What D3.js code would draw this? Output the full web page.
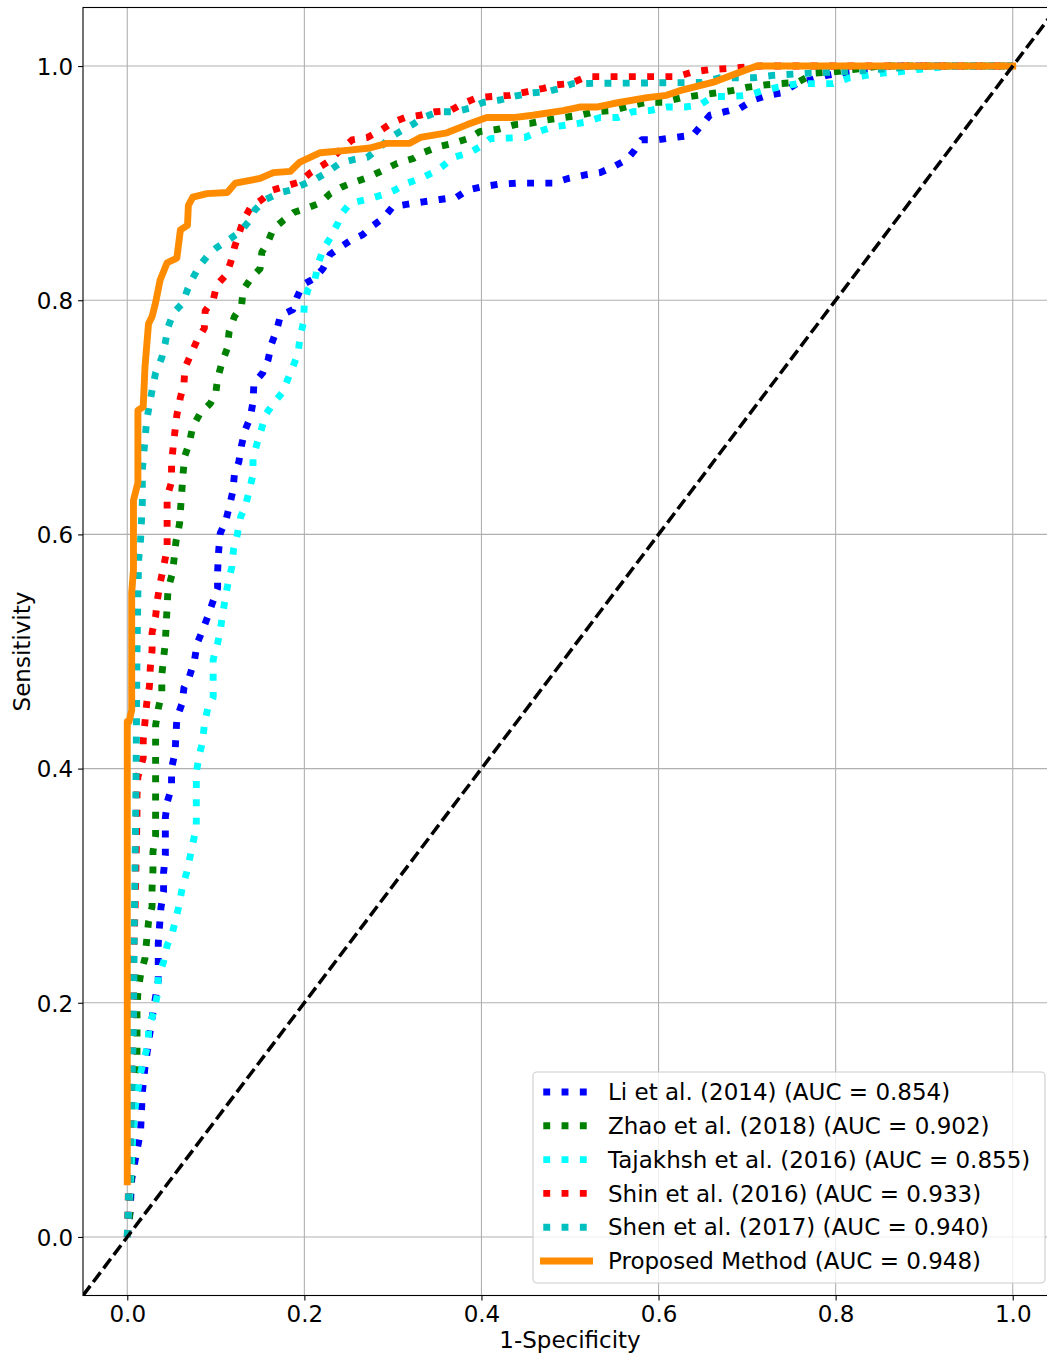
<!DOCTYPE html>
<html>
<head>
<meta charset="utf-8">
<script src="https://cdn.jsdelivr.net/npm/d3@7"></script>
<style>
html,body{margin:0;padding:0;background:#fff;}
svg{display:block;}
text{font-family:"DejaVu Sans",sans-serif;fill:#000;}
</style>
</head>
<body>
<div id="chart"></div>
<script>
// ---- data (fpr, tpr) ----
const liCurve = [[0,0],[0.003,0.02],[0.005,0.049],[0.010,0.07],[0.015,0.09],[0.017,0.123],[0.020,0.145],[0.024,0.166],[0.029,0.192],[0.032,0.205],[0.035,0.219],[0.035,0.251],[0.038,0.281],[0.041,0.295],[0.041,0.311],[0.043,0.326],[0.043,0.358],[0.045,0.371],[0.050,0.384],[0.050,0.400],[0.054,0.414],[0.055,0.429],[0.056,0.443],[0.062,0.456],[0.064,0.469],[0.070,0.478],[0.076,0.493],[0.079,0.507],[0.085,0.518],[0.091,0.530],[0.096,0.541],[0.102,0.554],[0.102,0.568],[0.103,0.584],[0.105,0.601],[0.111,0.611],[0.115,0.623],[0.119,0.636],[0.121,0.651],[0.126,0.662],[0.129,0.676],[0.133,0.689],[0.139,0.700],[0.142,0.713],[0.143,0.729],[0.153,0.738],[0.159,0.749],[0.163,0.763],[0.169,0.775],[0.173,0.787],[0.187,0.792],[0.192,0.803],[0.198,0.813],[0.212,0.819],[0.221,0.827],[0.229,0.839],[0.240,0.845],[0.252,0.851],[0.266,0.856],[0.278,0.864],[0.289,0.870],[0.300,0.880],[0.317,0.882],[0.334,0.884],[0.353,0.886],[0.372,0.888],[0.384,0.894],[0.402,0.897],[0.419,0.899],[0.440,0.900],[0.481,0.900],[0.498,0.904],[0.517,0.907],[0.534,0.909],[0.549,0.914],[0.564,0.920],[0.573,0.928],[0.581,0.937],[0.599,0.937],[0.618,0.939],[0.639,0.941],[0.649,0.950],[0.658,0.958],[0.675,0.961],[0.692,0.964],[0.707,0.971],[0.723,0.975],[0.739,0.977],[0.756,0.985],[0.771,0.988],[0.790,0.992],[0.805,0.994],[0.840,0.997],[0.870,1.0],[1.0,1.0]];

const zhaoCurve = [[0,0],[0.003,0.021],[0.003,0.038],[0.005,0.055],[0.006,0.083],[0.007,0.132],[0.011,0.149],[0.011,0.194],[0.012,0.209],[0.015,0.224],[0.020,0.238],[0.022,0.254],[0.024,0.269],[0.028,0.282],[0.028,0.298],[0.029,0.313],[0.029,0.329],[0.032,0.343],[0.032,0.437],[0.035,0.451],[0.039,0.465],[0.039,0.480],[0.041,0.494],[0.043,0.508],[0.044,0.524],[0.045,0.538],[0.046,0.553],[0.051,0.567],[0.053,0.580],[0.055,0.594],[0.059,0.609],[0.063,0.652],[0.065,0.667],[0.070,0.678],[0.074,0.692],[0.082,0.703],[0.094,0.712],[0.100,0.721],[0.102,0.733],[0.107,0.747],[0.113,0.759],[0.115,0.773],[0.121,0.786],[0.129,0.795],[0.131,0.809],[0.140,0.819],[0.150,0.827],[0.152,0.841],[0.159,0.850],[0.165,0.861],[0.176,0.868],[0.188,0.875],[0.204,0.879],[0.218,0.883],[0.229,0.891],[0.243,0.897],[0.257,0.901],[0.272,0.905],[0.289,0.911],[0.305,0.917],[0.323,0.921],[0.334,0.926],[0.351,0.931],[0.368,0.934],[0.385,0.938],[0.398,0.944],[0.419,0.946],[0.438,0.950],[0.455,0.951],[0.474,0.954],[0.492,0.956],[0.511,0.958],[0.528,0.961],[0.547,0.962],[0.568,0.966],[0.587,0.969],[0.605,0.969],[0.626,0.973],[0.645,0.975],[0.664,0.977],[0.683,0.979],[0.701,0.982],[0.722,0.984],[0.737,0.985],[0.757,0.986],[0.776,0.994],[0.797,0.995],[0.819,0.997],[0.850,1.0],[1.0,1.0]];

const tajakhshCurve = [[0,0],[0.002,0.03],[0.004,0.055],[0.006,0.083],[0.009,0.111],[0.015,0.14],[0.020,0.155],[0.024,0.166],[0.024,0.179],[0.030,0.192],[0.034,0.207],[0.035,0.222],[0.041,0.235],[0.045,0.249],[0.051,0.260],[0.055,0.272],[0.059,0.285],[0.062,0.298],[0.067,0.311],[0.071,0.325],[0.074,0.336],[0.078,0.350],[0.078,0.397],[0.081,0.410],[0.085,0.423],[0.087,0.437],[0.091,0.452],[0.097,0.461],[0.097,0.493],[0.102,0.507],[0.105,0.518],[0.108,0.533],[0.111,0.547],[0.114,0.559],[0.118,0.572],[0.120,0.587],[0.124,0.599],[0.128,0.615],[0.133,0.623],[0.137,0.635],[0.142,0.651],[0.142,0.665],[0.147,0.679],[0.152,0.691],[0.156,0.702],[0.165,0.712],[0.175,0.721],[0.181,0.732],[0.187,0.743],[0.193,0.755],[0.195,0.768],[0.199,0.781],[0.200,0.798],[0.204,0.809],[0.212,0.818],[0.216,0.832],[0.221,0.843],[0.229,0.853],[0.238,0.866],[0.243,0.875],[0.252,0.883],[0.271,0.886],[0.288,0.890],[0.302,0.894],[0.316,0.900],[0.331,0.904],[0.345,0.909],[0.357,0.915],[0.368,0.922],[0.387,0.926],[0.398,0.931],[0.410,0.938],[0.449,0.939],[0.464,0.944],[0.481,0.948],[0.500,0.950],[0.517,0.952],[0.534,0.956],[0.554,0.956],[0.571,0.961],[0.590,0.962],[0.609,0.965],[0.630,0.965],[0.647,0.967],[0.661,0.974],[0.681,0.974],[0.701,0.975],[0.718,0.979],[0.735,0.982],[0.757,0.985],[0.797,0.985],[0.816,0.990],[0.835,0.992],[0.853,0.994],[0.872,0.995],[0.892,0.997],[0.930,1.0],[1.0,1.0]];

const shinCurve = [[0,0],[0.001,0.03],[0.002,0.06],[0.004,0.1],[0.005,0.15],[0.007,0.2],[0.007,0.237],[0.009,0.285],[0.011,0.362],[0.011,0.377],[0.012,0.393],[0.018,0.409],[0.018,0.424],[0.020,0.440],[0.022,0.456],[0.025,0.470],[0.026,0.486],[0.028,0.501],[0.028,0.516],[0.032,0.530],[0.034,0.544],[0.037,0.558],[0.041,0.572],[0.045,0.588],[0.045,0.632],[0.050,0.645],[0.050,0.661],[0.052,0.676],[0.056,0.702],[0.060,0.717],[0.064,0.728],[0.065,0.742],[0.072,0.754],[0.079,0.766],[0.087,0.776],[0.088,0.791],[0.097,0.800],[0.101,0.813],[0.112,0.822],[0.117,0.833],[0.121,0.845],[0.131,0.868],[0.139,0.879],[0.152,0.886],[0.164,0.894],[0.181,0.898],[0.195,0.901],[0.207,0.909],[0.220,0.915],[0.230,0.920],[0.240,0.928],[0.254,0.937],[0.271,0.939],[0.286,0.945],[0.300,0.952],[0.314,0.956],[0.331,0.958],[0.348,0.961],[0.365,0.962],[0.379,0.968],[0.395,0.973],[0.413,0.974],[0.432,0.975],[0.451,0.978],[0.470,0.981],[0.485,0.984],[0.500,0.985],[0.519,0.991],[0.621,0.991],[0.639,0.995],[0.658,0.997],[0.681,0.998],[0.714,1.0],[1.0,1.0]];

const shenCurve = [[0,0],[0.002,0.05],[0.005,0.12],[0.007,0.18],[0.008,0.27],[0.009,0.33],[0.010,0.40],[0.011,0.50],[0.012,0.55],[0.013,0.58],[0.015,0.595],[0.017,0.627],[0.017,0.655],[0.022,0.698],[0.028,0.723],[0.032,0.738],[0.039,0.751],[0.043,0.764],[0.046,0.777],[0.052,0.789],[0.062,0.797],[0.068,0.809],[0.074,0.819],[0.082,0.830],[0.092,0.839],[0.101,0.845],[0.113,0.851],[0.127,0.858],[0.137,0.867],[0.144,0.877],[0.156,0.886],[0.173,0.892],[0.184,0.894],[0.199,0.899],[0.214,0.904],[0.227,0.910],[0.240,0.917],[0.255,0.920],[0.271,0.922],[0.286,0.931],[0.297,0.939],[0.308,0.944],[0.322,0.950],[0.334,0.956],[0.351,0.961],[0.370,0.961],[0.387,0.964],[0.402,0.969],[0.421,0.971],[0.436,0.974],[0.455,0.977],[0.474,0.978],[0.489,0.981],[0.503,0.985],[0.649,0.986],[0.669,0.990],[0.707,0.990],[0.729,0.992],[0.771,0.994],[0.808,0.995],[0.900,1.0],[1.0,1.0]];

const proposedCurve = [[0,0.047],[0,0.44],[0.002,0.44],[0.005,0.45],[0.005,0.55],[0.007,0.57],[0.007,0.629],[0.012,0.644],[0.012,0.706],[0.018,0.709],[0.020,0.743],[0.024,0.780],[0.028,0.786],[0.032,0.798],[0.037,0.817],[0.045,0.832],[0.056,0.836],[0.060,0.860],[0.068,0.864],[0.069,0.881],[0.074,0.888],[0.090,0.891],[0.113,0.892],[0.122,0.900],[0.150,0.904],[0.165,0.909],[0.184,0.910],[0.195,0.918],[0.218,0.926],[0.248,0.928],[0.274,0.930],[0.293,0.934],[0.319,0.934],[0.331,0.939],[0.361,0.943],[0.384,0.950],[0.406,0.956],[0.436,0.956],[0.458,0.958],[0.492,0.962],[0.511,0.965],[0.530,0.965],[0.549,0.968],[0.587,0.973],[0.609,0.975],[0.624,0.979],[0.661,0.986],[0.700,0.997],[0.711,1.0],[1.0,1.0]];

const chanceLine = [[-0.05,-0.05],[1.05,1.05]];

const seriesNames = ["Li et al. (2014) (AUC = 0.854)","Zhao et al. (2018) (AUC = 0.902)","Tajakhsh et al. (2016) (AUC = 0.855)","Shin et al. (2016) (AUC = 0.933)","Shen et al. (2017) (AUC = 0.940)","Proposed Method (AUC = 0.948)"];
const seriesColors = ["#0000ff","#008000","#00ffff","#ff0000","#00bfbf","#ff8c00"];
const seriesDotted = [true,true,true,true,true,false];
const seriesData = [liCurve, zhaoCurve, tajakhshCurve, shinCurve, shenCurve, proposedCurve];

const tickValues = [0.0,0.2,0.4,0.6,0.8,1.0];
const xLabel = "1-Specificity";
const yLabel = "Sensitivity";

// ---- layout ----
const W = 1047, H = 1356;
const pL = 83, pR = 1057, pT = 7.5, pB = 1295.5;
const lw = 6.9;
const fs = 23;

const x = d3.scaleLinear().domain([-0.05,1.05]).range([pL,pR]);
const y = d3.scaleLinear().domain([-0.05,1.05]).range([pB,pT]);

const svg = d3.select("#chart").append("svg").attr("width",W).attr("height",H);

svg.append("defs").append("clipPath").attr("id","clip")
  .append("rect").attr("x",pL).attr("y",pT).attr("width",pR-pL).attr("height",pB-pT);

// grid
const grid = svg.append("g");
grid.selectAll(".gx").data(tickValues).join("line")
  .attr("x1",d=>x(d)).attr("x2",d=>x(d)).attr("y1",pT).attr("y2",pB)
  .attr("stroke","#b0b0b0").attr("stroke-width",1.1);
grid.selectAll(".gy").data(tickValues).join("line")
  .attr("y1",d=>y(d)).attr("y2",d=>y(d)).attr("x1",pL).attr("x2",pR)
  .attr("stroke","#b0b0b0").attr("stroke-width",1.1);

// curves
const line = d3.line().x(d=>x(d[0])).y(d=>y(d[1]));
const plot = svg.append("g").attr("clip-path","url(#clip)");
seriesData.forEach((data,i)=>{
  const p = plot.append("path").datum(data).attr("d",line)
    .attr("fill","none").attr("stroke",seriesColors[i]).attr("stroke-width",lw)
    .attr("stroke-linejoin","round");
  if(seriesDotted[i]) p.attr("stroke-dasharray",`${lw},${(lw*1.65).toFixed(2)}`).attr("stroke-linecap","butt");
  else p.attr("stroke-linecap","square");
});
plot.append("path").datum(chanceLine).attr("d",line)
  .attr("fill","none").attr("stroke","#000").attr("stroke-width",3.5)
  .attr("stroke-dasharray","12,5");

// axes
const xAxis = d3.axisBottom(x).tickValues(tickValues).tickFormat(d3.format(".1f")).tickSize(4.9).tickPadding(4.9);
const yAxis = d3.axisLeft(y).tickValues(tickValues).tickFormat(d3.format(".1f")).tickSize(4.9).tickPadding(4.9);
const gx = svg.append("g").attr("transform",`translate(0,${pB})`).call(xAxis);
const gy = svg.append("g").attr("transform",`translate(${pL},0)`).call(yAxis);
[gx,gy].forEach(g=>{
  g.select(".domain").remove();
  g.selectAll(".tick line").attr("stroke","#000").attr("stroke-width",1.1);
  g.selectAll(".tick text").attr("font-size",fs).attr("font-family","DejaVu Sans").attr("fill","#000");
});
gx.selectAll(".tick text").attr("dy",null).attr("y",26);
gy.selectAll(".tick text").attr("dy","0.36em");

// spines
svg.append("rect").attr("x",pL).attr("y",pT).attr("width",pR-pL).attr("height",pB-pT)
  .attr("fill","none").attr("stroke","#000").attr("stroke-width",1.1);

// axis labels
svg.append("text").attr("x",(pL+pR)/2).attr("y",1348).attr("text-anchor","middle")
  .attr("font-size",fs).text(xLabel);
svg.append("text").attr("transform",`translate(30,${(pT+pB)/2}) rotate(-90)`)
  .attr("text-anchor","middle").attr("font-size",fs).text(yLabel);

// legend
const lg = svg.append("g");
lg.append("rect").attr("x",533).attr("y",1072).attr("width",512).attr("height",211)
  .attr("rx",4).attr("fill","#fff").attr("fill-opacity",0.8).attr("stroke","#cccccc").attr("stroke-width",1.1);
const rowY = d3.scaleLinear().domain([0,5]).range([1092,1261]);
seriesNames.forEach((name,i)=>{
  const cy = rowY(i);
  const l = lg.append("line").attr("x1",540).attr("x2",593).attr("y1",cy).attr("y2",cy)
    .attr("stroke",seriesColors[i]).attr("stroke-width",lw);
  if(seriesDotted[i]) l.attr("stroke-dasharray",`${lw},${(lw*1.65).toFixed(2)}`).attr("stroke-dashoffset",15);
  lg.append("text").attr("x",608).attr("y",cy).attr("dy","0.36em").attr("font-size",fs).text(name);
});
</script>
</body>
</html>
